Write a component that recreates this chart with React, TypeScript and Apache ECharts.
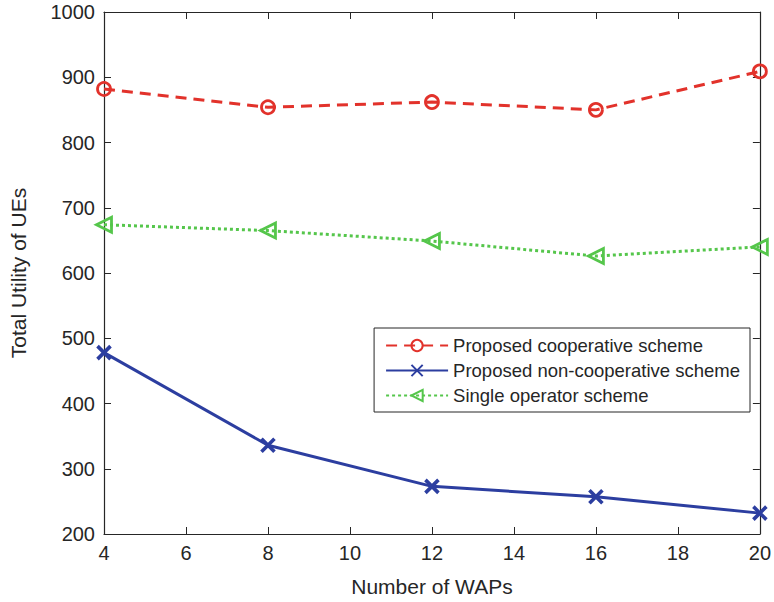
import React, { useEffect, useRef } from "react";
import * as echarts from "echarts";

const wapCounts = [4, 8, 12, 16, 20];
const cooperative = [882, 854, 862, 850, 909];
const nonCooperative = [478, 336, 273, 257, 232];
const singleOperator = [674, 665, 649, 626, 640];

const seriesNames = [
  "Proposed cooperative scheme",
  "Proposed non-cooperative scheme",
  "Single operator scheme",
];

const RED = "#e2322b";
const BLUE = "#2c3ea0";
const GREEN = "#55c64b";
const INK = "#262626";
const FONT = "Liberation Sans, Arial, Helvetica, sans-serif";

const pairs = (ys: number[]) => wapCounts.map((x, i) => [x, ys[i]]);

export default function App() {
  const ref = useRef<HTMLDivElement>(null);

  useEffect(() => {
    document.body.style.margin = "0";
    if (!ref.current) return;
    const chart = echarts.init(ref.current, null, { renderer: "svg" });

    const tickStyle = { inside: true, length: 7, lineStyle: { color: INK, width: 1 } };
    const lineAxis = { lineStyle: { color: INK, width: 1.2 } };
    const labelStyle = {
      fontFamily: FONT,
      fontSize: 20,
      color: INK,
      margin: 9,
      formatter: (v: number) => String(v),
    };
    const nameStyle = { fontFamily: FONT, fontSize: 21, color: INK };

    chart.setOption({
      animation: false,
      backgroundColor: "#fff",
      grid: { left: 97, right: 14, top: 12, bottom: 67, containLabel: false },
      xAxis: [
        {
          type: "value",
          min: 4,
          max: 20,
          interval: 2,
          name: "Number of WAPs",
          nameLocation: "middle",
          nameGap: 42,
          nameTextStyle: nameStyle,
          axisLine: lineAxis,
          axisTick: tickStyle,
          axisLabel: labelStyle,
          splitLine: { show: false },
        },
        {
          type: "value",
          position: "top",
          min: 4,
          max: 20,
          interval: 2,
          axisLine: lineAxis,
          axisTick: tickStyle,
          axisLabel: { show: false },
          splitLine: { show: false },
        },
      ],
      yAxis: [
        {
          type: "value",
          min: 200,
          max: 1000,
          interval: 100,
          name: "Total Utility of UEs",
          nameLocation: "middle",
          nameGap: 75,
          nameTextStyle: nameStyle,
          axisLine: lineAxis,
          axisTick: tickStyle,
          axisLabel: labelStyle,
          splitLine: { show: false },
        },
        {
          type: "value",
          position: "right",
          min: 200,
          max: 1000,
          interval: 100,
          axisLine: lineAxis,
          axisTick: tickStyle,
          axisLabel: { show: false },
          splitLine: { show: false },
        },
      ],
      legend: {
        right: 24,
        top: 328,
        orient: "vertical",
        itemWidth: 62,
        itemHeight: 14,
        itemGap: 6,
        padding: [8, 10, 7, 11],
        borderColor: INK,
        borderWidth: 1,
        backgroundColor: "#fff",
        textStyle: { fontFamily: FONT, fontSize: 18.5, color: INK },
        data: seriesNames,
      },
      series: [
        {
          name: seriesNames[0],
          type: "line",
          data: pairs(cooperative),
          symbol: "circle",
          symbolSize: 13,
          lineStyle: { color: RED, width: 3, type: [11, 7] },
          itemStyle: { color: "rgba(255,255,255,0)", borderColor: RED, borderWidth: 2.8 },
          z: 3,
        },
        {
          name: seriesNames[1],
          type: "line",
          data: pairs(nonCooperative),
          symbol: "path://M0,0L10,10M10,0L0,10",
          symbolSize: 13,
          lineStyle: { color: BLUE, width: 3 },
          itemStyle: { color: "rgba(255,255,255,0)", borderColor: BLUE, borderWidth: 3.6 },
          z: 3,
        },
        {
          name: seriesNames[2],
          type: "line",
          data: pairs(singleOperator),
          symbol: "triangle",
          symbolRotate: 90,
          symbolSize: 15,
          lineStyle: { color: GREEN, width: 3, type: [3, 3] },
          itemStyle: { color: "rgba(255,255,255,0)", borderColor: GREEN, borderWidth: 2.8 },
          z: 3,
        },
      ],
    });

    return () => chart.dispose();
  }, []);

  return <div ref={ref} style={{ width: 774, height: 602 }} />;
}
